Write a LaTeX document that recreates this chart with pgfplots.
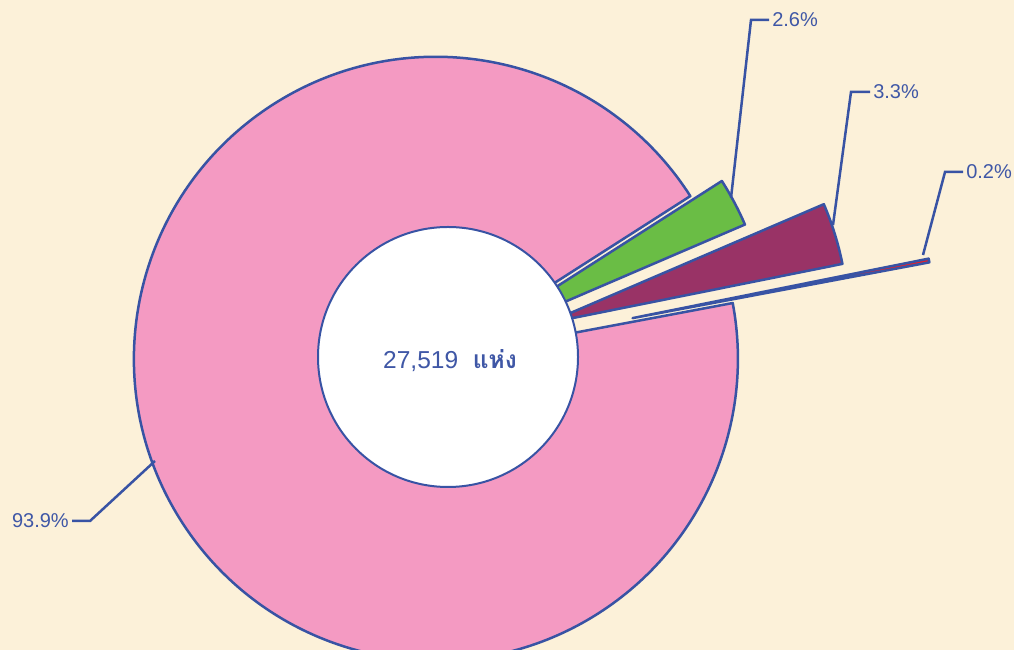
\documentclass[border=0pt]{standalone}
\usepackage{pgfplots}
\usepackage{pgfplotstable}
\pgfplotsset{compat=1.18}
\usepackage{fontspec}
\setmainfont{Liberation Sans}
\newfontfamily\thaifont[Script=Thai]{Loma}

\definecolor{bg}{HTML}{FCF1D9}
\definecolor{edge}{HTML}{3853A4}
\definecolor{txt}{HTML}{3F57A6}
\definecolor{sPink}{HTML}{F49AC2}
\definecolor{sRed}{HTML}{E8202A}
\definecolor{sPlum}{HTML}{993366}
\definecolor{sGreen}{HTML}{6ABD45}

% share (%), explode offset, colour, leader line (slice point, elbow, end), label anchor
\pgfplotstableread{
value explode colour ax ay bx by cx cy anc
93.9 13 sPink 155 189 90 129 72 129 east
0.2 188 sRed 923 395 945 478 963 478 west
3.3 103 sPlum 833 425 851 558 870 558 west
2.6 22 sGreen 731 452 751 630 769 630 west
}\slices

\tikzset{lab/.style={font=\fontsize{20}{24}\selectfont, text=txt, inner sep=2pt}}

\begin{document}
\begin{tikzpicture}
\begin{axis}[
    scale only axis, width=1014pt, height=650pt,
    xmin=0, xmax=1014, ymin=0, ymax=650,
    hide axis,
]
\fill[bg] (rel axis cs:0,0) rectangle (rel axis cs:1,1);
\pgfplotstablegetrowsof{\slices}
\pgfmathtruncatemacro\lastrow{\pgfplotsretval-1}
\def\cum{32.6}
\pgfplotsforeachungrouped \i in {0,...,\lastrow}{%
  \pgfplotstablegetelem{\i}{value}\of\slices \let\val\pgfplotsretval
  \pgfplotstablegetelem{\i}{explode}\of\slices \let\ex\pgfplotsretval
  \pgfplotstablegetelem{\i}{colour}\of\slices \let\col\pgfplotsretval
  \pgfmathsetmacro\sa{\cum}
  \pgfmathsetmacro\ea{\cum+3.6*\val}
  \pgfmathsetmacro\ma{(\sa+\ea)/2}
  \pgfmathsetmacro\px{448+\ex*cos(\ma)}
  \pgfmathsetmacro\py{296+\ex*sin(\ma)}
  \edef\doit{\noexpand\filldraw[fill=\col, draw=edge, line width=2.5pt, line join=round]
    (axis cs:\px,\py) -- ++(\sa:302pt) arc[start angle=\sa, end angle=\ea, radius=302pt] -- cycle;}
  \doit
  \global\let\cum\ea
}
\filldraw[fill=white, draw=edge, line width=2pt] (axis cs:448,293) circle[radius=130pt];
\node[font=\fontsize{24.5}{29}\selectfont, text=txt] at (axis cs:450,289)
  {27,519\hspace{0.6em}{\thaifont\bfseries แห่ง}};
\pgfplotsforeachungrouped \i in {0,...,\lastrow}{%
  \pgfplotstablegetelem{\i}{value}\of\slices \let\val\pgfplotsretval
  \pgfplotstablegetelem{\i}{ax}\of\slices \let\ax\pgfplotsretval
  \pgfplotstablegetelem{\i}{ay}\of\slices \let\ay\pgfplotsretval
  \pgfplotstablegetelem{\i}{bx}\of\slices \let\bx\pgfplotsretval
  \pgfplotstablegetelem{\i}{by}\of\slices \let\by\pgfplotsretval
  \pgfplotstablegetelem{\i}{cx}\of\slices \let\cx\pgfplotsretval
  \pgfplotstablegetelem{\i}{cy}\of\slices \let\cy\pgfplotsretval
  \pgfplotstablegetelem{\i}{anc}\of\slices \let\anc\pgfplotsretval
  \edef\doit{\noexpand\draw[edge, line width=2.5pt] (axis cs:\ax,\ay) -- (axis cs:\bx,\by) -- (axis cs:\cx,\cy)
    node[lab, anchor=\anc] {\val\noexpand\%};}
  \doit
}
\end{axis}
\end{tikzpicture}
\end{document}
